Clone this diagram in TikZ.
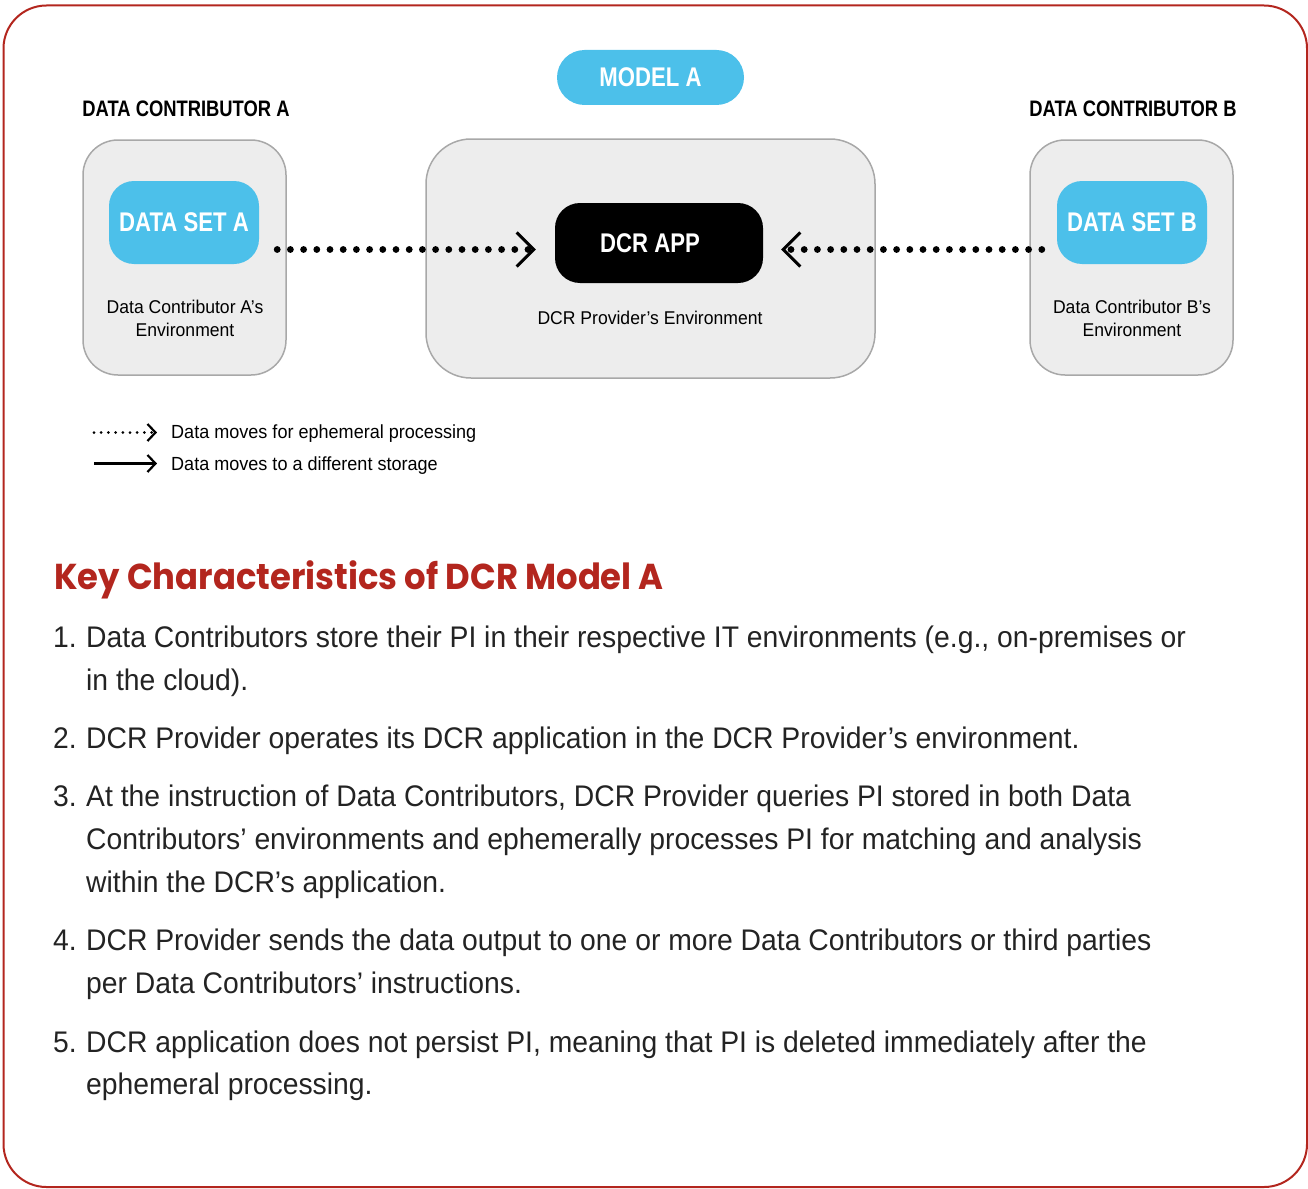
\documentclass[tikz,border=0pt]{standalone}
\usepackage{fontspec}
\setmainfont{Liberation Sans}[FakeStretch=0.95]
\newfontfamily\condbold{Liberation Sans}[FakeStretch=0.82]
\newfontfamily\titlefont{Poppins}[FakeStretch=0.94]
\usetikzlibrary{arrows.meta}
\definecolor{dcrblue}{HTML}{4CC0EA}
\definecolor{envgray}{HTML}{EDEDED}
\definecolor{envline}{HTML}{A8A8A8}
\definecolor{dcrred}{HTML}{B3261E}
\definecolor{bodytext}{HTML}{232323}
\tikzset{
  envbox/.style={draw=envline, line width=1.5pt, fill=envgray, rounded corners=35pt, inner sep=0pt},
  bluebox/.style={fill=dcrblue, rounded corners=25pt, inner sep=0pt, text=white, font=\condbold\bfseries\fontsize{27}{30}\selectfont},
  darkbox/.style={fill=black, rounded corners=25pt, inner sep=0pt, text=white, font=\condbold\bfseries\fontsize{27}{30}\selectfont},
  envlabel/.style={inner sep=0pt, align=center, font=\fontsize{18.5}{23}\selectfont},
  headlabel/.style={inner sep=0pt, font=\condbold\bfseries\fontsize{22.4}{24}\selectfont},
  dotflow/.style={line width=6.8pt, line cap=round, dash pattern=on 0pt off 13.2pt,
     -{Straight Barb[length=17pt, width=34pt, line width=3pt]}},
  legdot/.style={line width=3pt, line cap=round, dash pattern=on 0pt off 7.2pt,
     -{Straight Barb[length=8pt, width=17pt, line width=2.2pt]}},
  legsolid/.style={line width=2.2pt,
     -{Straight Barb[length=8pt, width=17pt, line width=2.2pt]}},
  legtext/.style={anchor=base west, inner sep=0pt, font=\fontsize{19}{22}\selectfont},
  bodyline/.style={anchor=base west, inner sep=0pt, text=bodytext, font=\fontsize{29.8}{43}\selectfont},
}
\begin{document}
\begin{tikzpicture}[x=1pt, y=-1pt]
\useasboundingbox (0,0) rectangle (1308,1188);
% outer frame
\draw[dcrred, line width=2pt, rounded corners=43pt] (3.5,5.5) rectangle (1307,1187);

% model pill
\node[bluebox, rounded corners=27.5pt, minimum width=187pt, minimum height=55pt] (model) at (650.5,77.5) {MODEL A};

% headers
\node[headlabel] (hA) at (186,108.5) {DATA CONTRIBUTOR A};
\node[headlabel] (hB) at (1133,108.5) {DATA CONTRIBUTOR B};

% environments
\node[envbox, minimum width=203pt, minimum height=235pt] (envA) at (184.5,257.5) {};
\node[envbox, rounded corners=45pt, minimum width=449pt, minimum height=239pt] (envP) at (650.5,258.5) {};
\node[envbox, minimum width=203pt, minimum height=235pt] (envB) at (1131.5,257.5) {};

% inner boxes
\node[bluebox, minimum width=150pt, minimum height=83pt] (dsA) at (184,222.5) {DATA SET A};
\node[bluebox, minimum width=150pt, minimum height=83pt] (dsB) at (1132,222.5) {DATA SET B};
\node[darkbox, minimum width=208pt, minimum height=80pt] (dcr) at (659,243) {DCR APP\hspace*{18pt}};

% environment labels
\node[envlabel] (lA) at (185,318.5) {Data Contributor A’s\\Environment};
\node[envlabel] (lP) at (650,318) {DCR Provider’s Environment};
\node[envlabel] (lB) at (1132,318.5) {Data Contributor B’s\\Environment};

% flows
\coordinate (flowY) at (0,249.5);
\draw[dotflow, shorten <=18pt, shorten >=19pt] (dsA.east |- flowY) -- (dcr.west |- flowY);
\draw[dotflow, shorten <=15pt, shorten >=18pt] (dsB.west |- flowY) -- (dcr.east |- flowY);

% legend
\coordinate (lg1s) at (94,432.5);
\coordinate (lg1e) at (157,432.5);
\coordinate (lg2s) at (94,463.5);
\coordinate (lg2e) at (157,463.5);
\draw[legdot] (lg1s) -- (lg1e);
\draw[legsolid] (lg2s) -- (lg2e);
\node[legtext] (lt1) at (171,438) {Data moves for ephemeral processing};
\node[legtext] (lt2) at (171,470) {Data moves to a different storage};

% title
\node[anchor=base west, inner sep=0pt, text=dcrred, font=\titlefont\bfseries\fontsize{36}{40}\selectfont] (title) at (54,589) {Key Characteristics of DCR Model A};

% list
\node[bodyline] (n1) at (53,647) {1.};
\node[bodyline] (t1a) at (86,647) {Data Contributors store their PI in their respective IT environments (e.g., on-premises or};
\node[bodyline] (t1b) at (86,690) {in the cloud).};
\node[bodyline] (n2) at (53,748) {2.};
\node[bodyline] (t2a) at (86,748) {DCR Provider operates its DCR application in the DCR Provider’s environment.};
\node[bodyline] (n3) at (53,806) {3.};
\node[bodyline] (t3a) at (86,806) {At the instruction of Data Contributors, DCR Provider queries PI stored in both Data};
\node[bodyline] (t3b) at (86,849) {Contributors’ environments and ephemerally processes PI for matching and analysis};
\node[bodyline] (t3c) at (86,892) {within the DCR’s application.};
\node[bodyline] (n4) at (53,950) {4.};
\node[bodyline] (t4a) at (86,950) {DCR Provider sends the data output to one or more Data Contributors or third parties};
\node[bodyline] (t4b) at (86,993) {per Data Contributors’ instructions.};
\node[bodyline] (n5) at (53,1052) {5.};
\node[bodyline] (t5a) at (86,1052) {DCR application does not persist PI, meaning that PI is deleted immediately after the};
\node[bodyline] (t5b) at (86,1094) {ephemeral processing.};
\end{tikzpicture}
\end{document}
